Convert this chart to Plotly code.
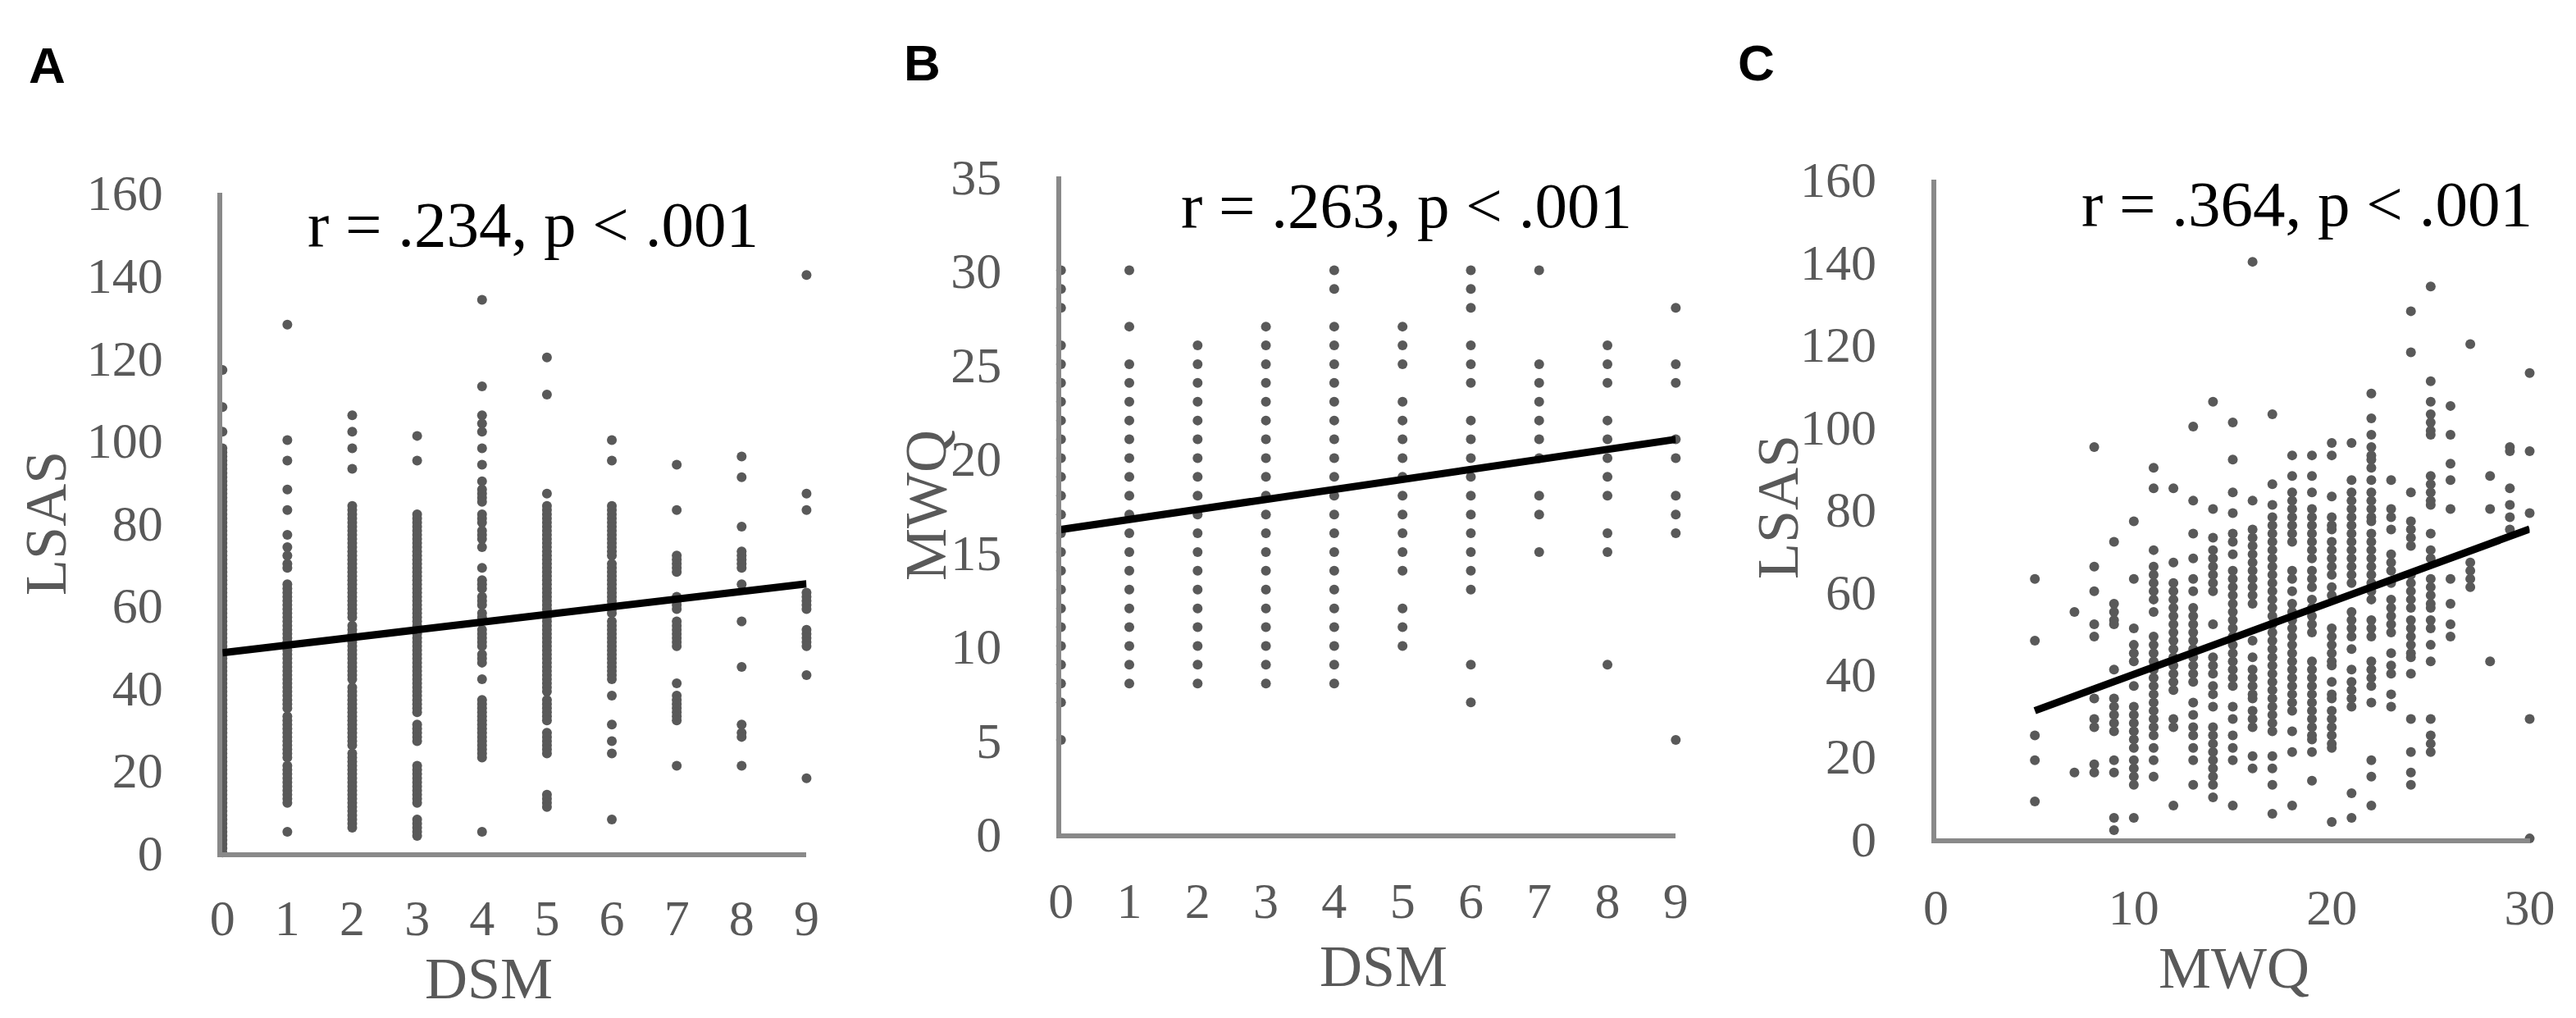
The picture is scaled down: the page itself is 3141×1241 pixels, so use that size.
import plotly.graph_objects as go

W, H = 3141, 1241

# ---------------- data ----------------
# Panel A: LSAS values observed at each DSM score (index = DSM 0..9)
dsm_ticks = [0, 1, 2, 3, 4, 5, 6, 7, 8, 9]
lsas_at_dsm = [
    [117,108,102,98,97,96,95,94,93,92,91,90,89,88,87,86,85,84,83,82,81,80,79,78,77,76,75,74,73,72,71,70,69,68,67,66,65,64,63,62,61,60,59,58,57,56,55,54,53,52,51,50,49,48,47,46,45,44,43,42,41,40,39,38,37,36,35,34,33,32,31,30,29,28,27,26,25,24,23,22,21,20,19,18,17,16,15,14,13,12,11,10,9,8,7,6,5,4,3,2,1,0],
    [128,100,95,88,83,77,74,72,70,69,65,64,63,62,61,60,59,58,57,56,55,54,53,52,51,50,49,48,47,46,45,44,43,42,41,40,39,38,37,36,35,33,32,31,30,29,28,27,26,25,24,23,21,20,19,18,17,16,15,14,13,12,5],
    [106,102,98,93,84,83,82,81,80,79,78,77,76,75,74,73,72,71,70,69,68,67,66,65,64,63,62,61,60,59,58,57,55,54,53,52,51,50,49,48,47,46,45,44,43,42,40,39,38,37,36,35,34,33,32,31,30,29,28,27,26,24,23,22,21,20,19,18,17,16,15,14,13,12,11,10,9,8,7,6],
    [101,95,82,81,80,79,78,77,76,75,74,73,72,71,70,69,68,67,66,65,64,63,62,61,60,59,58,57,56,55,54,53,52,51,50,49,48,47,46,45,44,43,42,41,40,39,38,37,36,35,34,31,30,29,28,27,21,20,19,18,17,16,15,14,13,12,8,7,6,5,4],
    [134,113,106,104,102,98,94,90,88,87,86,85,82,81,80,78,77,76,74,69,66,65,64,62,61,60,58,57,54,53,52,51,50,48,47,46,42,37,36,35,34,33,32,31,30,29,28,27,26,25,24,23,5],
    [120,111,87,84,83,82,81,80,79,78,77,76,75,74,73,72,71,70,69,68,67,66,65,64,63,62,61,60,59,58,57,56,55,54,53,52,51,50,49,48,47,46,45,44,43,42,41,40,39,37,36,35,34,33,32,29,28,27,26,25,24,14,13,12,11],
    [100,95,84,83,82,81,80,79,78,77,76,75,74,73,72,70,69,68,67,66,65,64,63,62,61,60,59,58,56,55,54,53,52,51,50,49,48,47,46,45,44,43,42,38,31,27,24,8],
    [94,83,72,71,70,69,68,62,61,60,59,56,55,54,53,52,51,50,41,38,37,36,35,34,33,32,21],
    [96,91,79,73,72,71,70,69,65,56,45,31,29,28,21],
    [140,87,83,63,62,61,60,59,54,53,52,51,50,43,18],
]
trend_A = {"intercept": 48.4, "slope": 1.86, "x_from": 0, "x_to": 9}

# Panel B: MWQ values observed at each DSM score
mwq_at_dsm = [
    [30,29,28,26,25,24,23,22,21,20,19,18,17,16,15,14,13,12,11,10,9,8,7,5],
    [30,27,25,24,23,22,21,20,19,18,17,16,15,14,13,12,11,10,9,8],
    [26,25,24,23,22,21,20,19,18,17,16,15,14,13,12,11,10,9,8],
    [27,26,25,24,23,22,21,20,19,18,17,16,15,14,13,12,11,10,9,8],
    [30,29,27,26,25,24,23,22,21,20,19,18,17,16,15,14,13,12,11,10,9,8],
    [27,26,25,23,22,21,20,19,18,17,16,15,14,12,11,10],
    [30,29,28,26,25,24,22,21,20,19,18,17,16,15,14,13,9,7],
    [30,25,24,23,22,21,20,18,17,15],
    [26,25,24,22,21,20,19,18,16,15,9],
    [28,25,24,21,20,18,17,16,5],
]
trend_B = {"intercept": 16.2, "slope": 0.533, "x_from": 0, "x_to": 9}

# Panel C: LSAS values observed at each MWQ score
lsas_at_mwq = {
    5: [63,48,25,19,9],
    7: [55,16],
    8: [95,66,60,52,49,34,29,27,18,16],
    9: [72,57,55,53,52,41,34,32,30,28,26,19,16,5,2],
    10: [77,63,51,47,45,43,37,32,30,28,26,24,22,19,17,15,13,5],
    11: [90,85,70,66,64,62,60,58,55,49,47,45,43,41,39,37,35,33,31,29,27,25,22,19,15],
    12: [85,67,62,60,58,56,54,52,50,48,46,44,42,40,38,36,29,27,8],
    13: [100,82,74,68,63,60,56,54,52,50,48,46,44,42,40,38,33,30,27,25,22,19,13],
    14: [106,80,73,70,68,66,64,62,60,52,44,42,40,37,35,32,27,25,23,21,19,17,15,13,10],
    15: [101,92,84,79,74,72,69,65,63,61,59,57,55,53,51,49,47,45,43,41,39,37,32,29,25,22,19,8],
    16: [140,82,75,73,71,69,67,65,63,61,59,57,48,44,41,39,37,35,34,31,29,27,20,17],
    17: [103,86,81,78,76,74,72,70,68,66,64,62,60,58,56,54,52,50,48,46,44,42,40,38,36,34,32,30,28,26,20,17,13,6],
    18: [93,88,84,82,80,78,76,74,72,65,63,60,57,55,53,51,49,47,45,43,41,39,37,35,33,31,26,21,8],
    19: [93,88,84,80,78,76,74,72,70,68,65,63,61,58,56,54,52,50,43,41,39,37,35,33,31,29,27,25,24,21,14],
    20: [96,93,83,78,76,75,72,70,68,66,64,61,59,51,49,47,45,43,42,38,35,34,31,29,27,25,23,22,4],
    21: [96,87,84,82,80,78,76,74,72,70,68,66,64,62,55,53,51,49,46,41,38,36,34,32,11,5],
    22: [108,102,98,95,93,92,90,87,84,82,80,78,77,74,72,70,68,66,64,62,60,58,53,51,49,43,41,39,37,33,19,15,8],
    23: [87,80,78,75,69,67,65,62,58,56,54,52,50,45,42,40,35,32],
    24: [128,118,84,77,75,73,71,64,62,60,58,56,53,51,49,47,45,44,40,29,21,16,13],
    25: [134,111,106,103,101,99,98,88,86,84,82,81,74,70,68,63,61,59,57,56,53,51,47,43,29,25,23,21],
    26: [105,98,91,87,80,63,57,52,49],
    27: [120,67,65,63,61],
    28: [88,80,43],
    29: [95,94,85,81,78,75],
    30: [113,94,79,29,0],
}
trend_C = {"intercept": 22.2, "slope": 1.764, "x_from": 5, "x_to": 30}

stats_text = ["r = .234, p < .001", "r = .263, p < .001", "r = .364, p < .001"]
panel_letters = ["A", "B", "C"]

# ---------------- styling ----------------
DOT = "#595959"
AXIS = "#898989"
LABEL = "#595959"
SERIF = "Liberation Serif, Times New Roman, serif"
TICK_SIZE = 62
TITLE_SIZE = 72


def flatten_cols(cols):
    xs, ys = [], []
    for xv, vals in cols:
        for v in vals:
            xs.append(xv)
            ys.append(v)
    return xs, ys


fig = go.Figure()

panels = [
    ("x", "y", list(zip(dsm_ticks, lsas_at_dsm)), trend_A),
    ("x2", "y2", list(zip(dsm_ticks, mwq_at_dsm)), trend_B),
    ("x3", "y3", list(lsas_at_mwq.items()), trend_C),
]
for xa, ya, cols, tr in panels:
    xs, ys = flatten_cols(cols)
    fig.add_trace(go.Scatter(
        x=xs, y=ys, mode="markers", xaxis=xa, yaxis=ya,
        marker=dict(size=12, color=DOT, line=dict(width=0)),
        cliponaxis=False, showlegend=False, hoverinfo="skip"))
    tx = [tr["x_from"], tr["x_to"]]
    ty = [tr["intercept"] + tr["slope"] * v for v in tx]
    fig.add_trace(go.Scatter(
        x=tx, y=ty, mode="lines", xaxis=xa, yaxis=ya,
        line=dict(color="#000000", width=9),
        cliponaxis=False, showlegend=False, hoverinfo="skip"))


def px(xp):
    return xp / W


def py(yp):
    return 1 - yp / H


common_axis = dict(
    showline=True, linecolor=AXIS, linewidth=6, showgrid=False, zeroline=False,
    ticks="", tickfont=dict(family=SERIF, size=TICK_SIZE, color=LABEL),
    fixedrange=True,
)

# plot-area pixel geometry (left, right, bottom, top)
geom = {
    "A": (251, 974, 1056, 205),
    "B": (1289, 2050, 1032, 184),
    "C": (2372, 3107, 1038, 188),
}

layout = dict(
    width=W, height=H, margin=dict(l=0, r=0, t=0, b=0),
    paper_bgcolor="white", plot_bgcolor="white",
)

gA, gB, gC = geom["A"], geom["B"], geom["C"]
layout["xaxis"] = dict(common_axis, domain=[px(gA[0]), px(gA[1])], range=[0, 9],
                       tickvals=dsm_ticks, anchor="y", ticklabelstandoff=20)
layout["yaxis"] = dict(common_axis, domain=[py(gA[2]), py(gA[3])], range=[0, 160],
                       tickvals=[0, 20, 40, 60, 80, 100, 120, 140, 160], anchor="x",
                       ticklabelstandoff=54)
layout["xaxis2"] = dict(common_axis, domain=[px(gB[0]), px(gB[1])], range=[0, 9],
                        tickvals=dsm_ticks, anchor="y2", ticklabelstandoff=22)
layout["yaxis2"] = dict(common_axis, domain=[py(gB[2]), py(gB[3])], range=[0, 35],
                        tickvals=[0, 5, 10, 15, 20, 25, 30, 35], anchor="x2",
                        ticklabelstandoff=54)
layout["xaxis3"] = dict(common_axis, domain=[px(gC[0]), px(gC[1])], range=[0, 30],
                        tickvals=[0, 10, 20, 30], anchor="y3", ticklabelstandoff=24)
layout["yaxis3"] = dict(common_axis, domain=[py(gC[2]), py(gC[3])], range=[0, 160],
                        tickvals=[0, 20, 40, 60, 80, 100, 120, 140, 160], anchor="x3",
                        ticklabelstandoff=54)

annotations = []
# panel letters
for letter, (lx, ly) in zip(panel_letters, [(34, 41), (1117, 38), (2150, 38)]):
    annotations.append(dict(text=letter, x=px(lx), y=py(ly), xref="paper", yref="paper",
                            xanchor="center", yanchor="middle", showarrow=False,
                            font=dict(family="Liberation Sans, Arial, sans-serif",
                                      size=62, color="#000000", weight="bold")))
# statistics text
for txt, (sx, sy) in zip(stats_text, [(636, 246), (1717, 222), (2831, 220)]):
    annotations.append(dict(text=txt, x=px(sx), y=py(sy), xref="paper", yref="paper",
                            xanchor="center", yanchor="middle", showarrow=False,
                            font=dict(family=SERIF, size=79, color="#000000")))
# axis titles
x_titles = [("DSM", 581, 1219), ("DSM", 1688, 1203), ("MWQ", 2741, 1205)]
for txt, tx_, ty_ in x_titles:
    annotations.append(dict(text=txt, x=px(tx_), y=py(ty_), xref="paper", yref="paper",
                            xanchor="center", yanchor="middle", showarrow=False,
                            font=dict(family=SERIF, size=TITLE_SIZE, color=LABEL)))
y_titles = [("LSAS", 33, 632), ("MWQ", 1121, 608), ("LSAS", 2176, 610)]
for txt, tx_, ty_ in y_titles:
    annotations.append(dict(text=txt, x=px(tx_), y=py(ty_), xref="paper", yref="paper",
                            xanchor="center", yanchor="middle", showarrow=False,
                            textangle=-90,
                            font=dict(family=SERIF, size=TITLE_SIZE, color=LABEL)))

layout["annotations"] = annotations
fig.update_layout(**layout)

fig.write_html("out.html")
